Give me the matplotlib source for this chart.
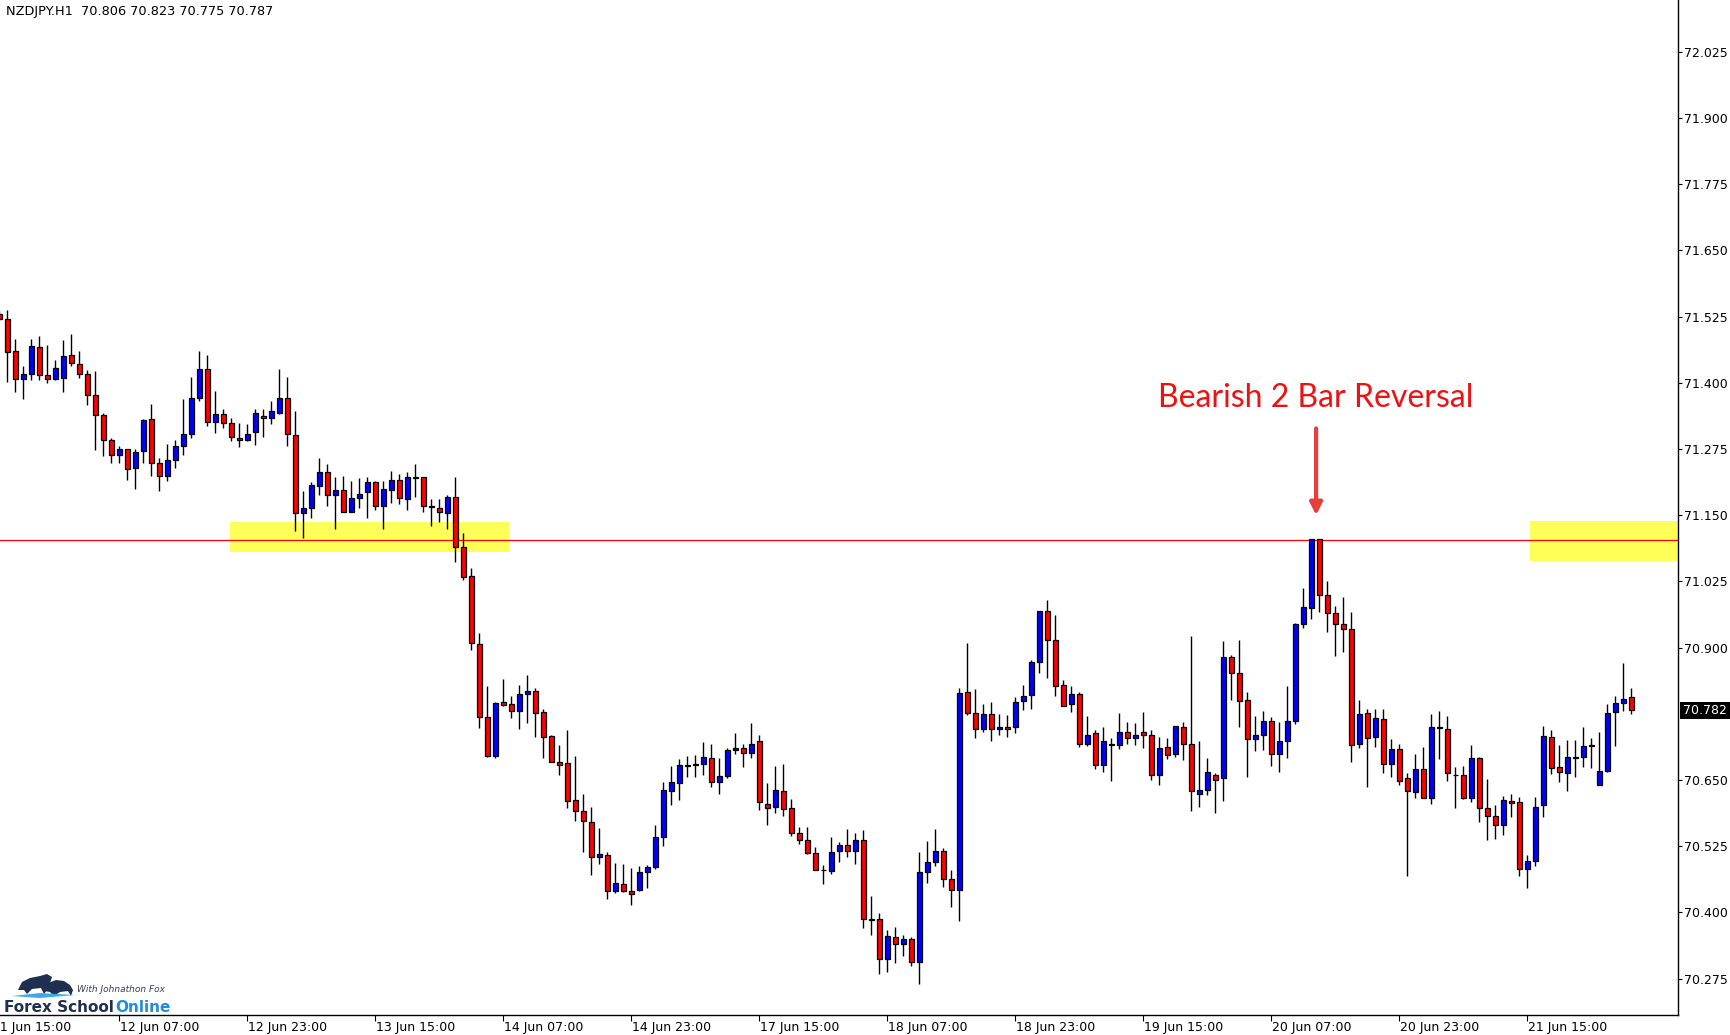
import matplotlib
matplotlib.use("Agg")
import matplotlib.pyplot as plt
import matplotlib.transforms as mtrans
from matplotlib.patches import Rectangle, Polygon
import numpy as np

# NZDJPY H1 candles, oldest first (bar 0 is only partly visible at the left edge)
opens = [
    71.530, 71.521, 71.461, 71.408, 71.416, 71.467, 71.414, 71.407, 71.410, 71.452,
    71.435, 71.416, 71.377, 71.339, 71.293, 71.263, 71.276, 71.239, 71.271, 71.331,
    71.248, 71.224, 71.254, 71.280, 71.303, 71.371, 71.426, 71.327, 71.341, 71.324,
    71.296, 71.292, 71.307, 71.337, 71.333, 71.344, 71.371, 71.301, 71.154, 71.163,
    71.205, 71.231, 71.188, 71.197, 71.156, 71.182, 71.193, 71.212, 71.167, 71.197,
    71.216, 71.180, 71.220, 71.223, 71.167, 71.163, 71.154, 71.184, 71.091, 71.035,
    70.906, 70.770, 70.696, 70.797, 70.793, 70.781, 70.812, 70.818, 70.778, 70.733,
    70.685, 70.682, 70.612, 70.591, 70.570, 70.504, 70.508, 70.441, 70.453, 70.440,
    70.442, 70.476, 70.485, 70.542, 70.629, 70.644, 70.677, 70.678, 70.680, 70.691,
    70.646, 70.657, 70.706, 70.710, 70.702, 70.723, 70.604, 70.599, 70.629, 70.597,
    70.550, 70.536, 70.512, 70.481, 70.478, 70.516, 70.527, 70.516, 70.536, 70.388,
    70.387, 70.312, 70.353, 70.340, 70.349, 70.306, 70.476, 70.495, 70.516, 70.463,
    70.442, 70.816, 70.776, 70.746, 70.774, 70.746, 70.750, 70.750, 70.799, 70.810,
    70.872, 70.969, 70.914, 70.829, 70.793, 70.812, 70.719, 70.738, 70.678, 70.717,
    70.717, 70.740, 70.729, 70.740, 70.736, 70.659, 70.712, 70.699, 70.751, 70.719,
    70.623, 70.632, 70.659, 70.653, 70.882, 70.852, 70.801, 70.727, 70.735, 70.761,
    70.700, 70.723, 70.761, 70.944, 70.974, 71.105, 70.999, 70.965, 70.944, 70.935,
    70.719, 70.776, 70.731, 70.765, 70.680, 70.708, 70.653, 70.627, 70.670, 70.617,
    70.751, 70.746, 70.660, 70.659, 70.617, 70.691, 70.597, 70.582, 70.565, 70.610,
    70.608, 70.482, 70.497, 70.602, 70.731, 70.674, 70.663, 70.692, 70.693, 70.714,
    70.640, 70.668, 70.778, 70.796, 70.806,
]
highs = [
    71.535, 71.538, 71.482, 71.432, 71.482, 71.489, 71.472, 71.444, 71.480, 71.492,
    71.460, 71.424, 71.422, 71.344, 71.295, 71.280, 71.276, 71.275, 71.331, 71.361,
    71.258, 71.284, 71.293, 71.369, 71.411, 71.461, 71.452, 71.385, 71.350, 71.333,
    71.324, 71.322, 71.350, 71.350, 71.365, 71.426, 71.411, 71.346, 71.196, 71.212,
    71.258, 71.246, 71.223, 71.225, 71.214, 71.220, 71.222, 71.214, 71.214, 71.234,
    71.227, 71.231, 71.246, 71.223, 71.180, 71.180, 71.189, 71.223, 71.116, 71.050,
    70.927, 70.828, 70.797, 70.841, 70.809, 70.830, 70.848, 70.823, 70.785, 70.736,
    70.716, 70.745, 70.696, 70.624, 70.599, 70.560, 70.514, 70.493, 70.492, 70.484,
    70.487, 70.489, 70.565, 70.646, 70.677, 70.690, 70.696, 70.697, 70.722, 70.718,
    70.691, 70.710, 70.739, 70.718, 70.758, 70.735, 70.644, 70.677, 70.680, 70.614,
    70.561, 70.561, 70.523, 70.490, 70.543, 70.533, 70.558, 70.550, 70.556, 70.431,
    70.399, 70.367, 70.373, 70.358, 70.354, 70.514, 70.535, 70.558, 70.521, 70.480,
    70.823, 70.909, 70.822, 70.794, 70.797, 70.775, 70.773, 70.807, 70.830, 70.876,
    70.969, 70.990, 70.962, 70.839, 70.828, 70.816, 70.771, 70.744, 70.750, 70.729,
    70.777, 70.759, 70.758, 70.779, 70.744, 70.731, 70.729, 70.753, 70.759, 70.922,
    70.724, 70.691, 70.663, 70.913, 70.886, 70.914, 70.816, 70.771, 70.780, 70.769,
    70.760, 70.828, 70.946, 71.013, 71.106, 71.106, 71.026, 70.979, 70.996, 70.967,
    70.801, 70.784, 70.784, 70.784, 70.728, 70.719, 70.663, 70.699, 70.712, 70.775,
    70.780, 70.771, 70.675, 70.677, 70.716, 70.694, 70.652, 70.602, 70.620, 70.624,
    70.618, 70.508, 70.618, 70.753, 70.745, 70.717, 70.726, 70.726, 70.750, 70.730,
    70.741, 70.794, 70.809, 70.871, 70.823,
]
lows = [
    71.518, 71.402, 71.382, 71.370, 71.405, 71.405, 71.400, 71.405, 71.382, 71.431,
    71.409, 71.359, 71.274, 71.261, 71.249, 71.249, 71.217, 71.200, 71.249, 71.224,
    71.195, 71.214, 71.240, 71.263, 71.295, 71.365, 71.319, 71.306, 71.314, 71.291,
    71.278, 71.290, 71.282, 71.298, 71.322, 71.342, 71.280, 71.121, 71.108, 71.145,
    71.189, 71.167, 71.125, 71.156, 71.156, 71.163, 71.144, 71.159, 71.125, 71.173,
    71.172, 71.159, 71.185, 71.157, 71.130, 71.138, 71.125, 71.062, 71.028, 70.896,
    70.749, 70.694, 70.692, 70.789, 70.767, 70.747, 70.758, 70.732, 70.692, 70.684,
    70.660, 70.598, 70.572, 70.515, 70.471, 70.492, 70.426, 70.437, 70.438, 70.415,
    70.440, 70.447, 70.483, 70.526, 70.602, 70.613, 70.656, 70.656, 70.660, 70.636,
    70.623, 70.653, 70.699, 70.675, 70.691, 70.594, 70.566, 70.587, 70.583, 70.545,
    70.530, 70.510, 70.481, 70.454, 70.473, 70.495, 70.504, 70.492, 70.370, 70.358,
    70.283, 70.288, 70.305, 70.317, 70.298, 70.264, 70.456, 70.487, 70.449, 70.411,
    70.383, 70.772, 70.730, 70.741, 70.724, 70.736, 70.732, 70.738, 70.783, 70.785,
    70.853, 70.843, 70.809, 70.789, 70.779, 70.713, 70.715, 70.670, 70.666, 70.649,
    70.709, 70.719, 70.717, 70.711, 70.651, 70.641, 70.690, 70.694, 70.687, 70.591,
    70.600, 70.621, 70.587, 70.611, 70.802, 70.751, 70.655, 70.704, 70.706, 70.677,
    70.666, 70.692, 70.756, 70.938, 70.955, 70.968, 70.930, 70.885, 70.892, 70.685,
    70.710, 70.636, 70.713, 70.664, 70.656, 70.641, 70.468, 70.617, 70.617, 70.604,
    70.690, 70.649, 70.598, 70.614, 70.609, 70.570, 70.536, 70.539, 70.547, 70.581,
    70.468, 70.447, 70.487, 70.581, 70.662, 70.647, 70.630, 70.656, 70.675, 70.673,
    70.640, 70.665, 70.715, 70.781, 70.775,
]
closes = [
    71.521, 71.459, 71.407, 71.416, 71.469, 71.414, 71.407, 71.429, 71.450, 71.437,
    71.416, 71.377, 71.339, 71.293, 71.263, 71.275, 71.237, 71.269, 71.329, 71.248,
    71.225, 71.254, 71.280, 71.303, 71.371, 71.426, 71.327, 71.341, 71.324, 71.297,
    71.293, 71.303, 71.343, 71.333, 71.346, 71.371, 71.303, 71.154, 71.163, 71.207,
    71.231, 71.188, 71.197, 71.156, 71.182, 71.191, 71.212, 71.167, 71.199, 71.216,
    71.182, 71.222, 71.223, 71.167, 71.166, 71.157, 71.184, 71.091, 71.033, 70.908,
    70.770, 70.696, 70.795, 70.792, 70.781, 70.812, 70.819, 70.776, 70.732, 70.684,
    70.679, 70.611, 70.591, 70.572, 70.504, 70.510, 70.440, 70.455, 70.440, 70.434,
    70.476, 70.485, 70.542, 70.631, 70.646, 70.678, 70.678, 70.680, 70.693, 70.646,
    70.657, 70.706, 70.710, 70.702, 70.719, 70.608, 70.597, 70.631, 70.595, 70.550,
    70.536, 70.512, 70.481, 70.480, 70.514, 70.527, 70.516, 70.536, 70.387, 70.386,
    70.312, 70.355, 70.340, 70.349, 70.306, 70.476, 70.495, 70.516, 70.463, 70.442,
    70.814, 70.776, 70.746, 70.774, 70.746, 70.750, 70.746, 70.797, 70.808, 70.872,
    70.969, 70.914, 70.827, 70.789, 70.812, 70.719, 70.736, 70.678, 70.723, 70.719,
    70.740, 70.729, 70.736, 70.736, 70.659, 70.710, 70.697, 70.753, 70.719, 70.629,
    70.631, 70.665, 70.651, 70.882, 70.852, 70.799, 70.727, 70.735, 70.761, 70.699,
    70.723, 70.761, 70.944, 70.976, 71.105, 70.999, 70.965, 70.944, 70.935, 70.717,
    70.774, 70.729, 70.767, 70.680, 70.708, 70.648, 70.629, 70.670, 70.617, 70.750,
    70.748, 70.663, 70.659, 70.617, 70.691, 70.597, 70.582, 70.565, 70.612, 70.606,
    70.483, 70.498, 70.600, 70.733, 70.672, 70.665, 70.693, 70.693, 70.714, 70.716,
    70.668, 70.776, 70.796, 70.803, 70.782,
]

# time axis: a label every 16 bars, first one sits one bar left of the window
date_labels = ["11 Jun 15:00", "12 Jun 07:00", "12 Jun 23:00", "13 Jun 15:00",
               "14 Jun 07:00", "14 Jun 23:00", "17 Jun 15:00", "18 Jun 07:00",
               "18 Jun 23:00", "19 Jun 15:00", "20 Jun 07:00", "20 Jun 23:00",
               "21 Jun 15:00"]
date_bars = list(range(-1, 192, 16))

price_ticks = [70.275, 70.400, 70.525, 70.650, 70.900, 71.025, 71.150,
               71.275, 71.400, 71.525, 71.650, 71.775, 71.900, 72.025]
header = "NZDJPY.H1  70.806 70.823 70.775 70.787"

resistance = 71.104
zone_left = (28.8, 63.7, 71.080, 71.138)      # bar from, bar to, price low, price high
zone_right = (191.3, 215.0, 71.063, 71.140)
note_text = "Bearish 2 Bar Reversal"
note_bar, note_price = 164.6, 71.372
arrow_from, arrow_to = 71.314, 71.150

W, H = 1730, 1035
fig = plt.figure(figsize=(W / 100, H / 100), dpi=100)
ax = fig.add_axes([0, 20 / H, 1678 / W, 1015 / H])

x = np.arange(len(opens))
o = np.array(opens)
c = np.array(closes)
colors = np.where(c >= o, "#0000FF", "#FF0000")

# zones and level first so candles sit on top
for x0, x1, y0, y1 in (zone_left, zone_right):
    ax.add_patch(Rectangle((x0, y0), x1 - x0, y1 - y0, facecolor="#FFFF57",
                           edgecolor="none", zorder=1))
ax.axhline(resistance, color="#FF0000", lw=0.9, zorder=2)

ax.vlines(x, lows, highs, color="black", lw=1.0, zorder=3)
ax.bar(x, c - o, bottom=o, width=0.62, color=colors, edgecolor="black",
       linewidth=0.9, zorder=4)

ax.set_xlim(1 - 7.3 / 8, 1 + (1678 - 7.3) / 8)
ax.set_ylim(72.025 - (1015 - 51.86) / 529.6, 72.025 + 51.86 / 529.6)

for side in ("left", "top"):
    ax.spines[side].set_visible(False)
for side in ("right", "bottom"):
    ax.spines[side].set_linewidth(1.0)
    ax.spines[side].set_color("black")

# price axis on the right
ax.yaxis.tick_right()
ax.set_yticks(price_ticks)
ax.set_yticklabels([f"{p:.3f}" for p in price_ticks])
ax.tick_params(axis="y", direction="out", length=3, width=0.8, pad=1.5,
               labelsize=9, colors="black")

# time axis ticks, labels drawn by hand so the clipped first one still shows
ax.set_xticks([b for b in date_bars if b >= 0])
ax.set_xticklabels([])
ax.tick_params(axis="x", direction="out", length=4, width=0.8)
tr = mtrans.blended_transform_factory(ax.transData, ax.transAxes)
for b, lab in zip(date_bars, date_labels):
    ax.text(b + 0.15, -13 / 1015, lab, transform=tr, ha="left", va="center",
            fontsize=9, clip_on=False)

ax.text(0.0035, 0.9955, header, transform=ax.transAxes, ha="left", va="top",
        fontsize=9.3, color="black")

# current price box
trp = mtrans.blended_transform_factory(fig.transFigure, ax.transData)
last = closes[-1]
box_h = 17 / 529.6
ax.add_patch(Rectangle((1680 / W, last - box_h / 2), 50 / W, box_h,
                       transform=trp, facecolor="black", edgecolor="none",
                       clip_on=False, zorder=6))
ax.text(1705 / W, last, f"{last:.3f}", transform=trp, ha="center", va="center",
        color="white", fontsize=9, zorder=7, clip_on=False)

# annotation
ax.text(note_bar, note_price, note_text, ha="center", va="center",
        color="#EE1111", fontsize=23, family="Lato", zorder=6)
ax.annotate("", xy=(note_bar, arrow_to), xytext=(note_bar, arrow_from),
            arrowprops=dict(arrowstyle="-|>", color="#E5403C", lw=3,
                            mutation_scale=18, shrinkA=0, shrinkB=0), zorder=6)

# logo bottom-left: rough bull/bear silhouettes, swoosh, text
def px(pts):
    return [(a / W, 1 - b / H) for a, b in pts]

bull = [(18, 990), (22, 982), (30, 978), (40, 976), (47, 974), (52, 977),
        (50, 983), (47, 990), (44, 994), (41, 988), (32, 989), (27, 994),
        (24, 990)]
bear = [(44, 991), (48, 983), (56, 980), (64, 981), (70, 985), (73, 990),
        (71, 996), (68, 991), (60, 992), (54, 996), (50, 992)]
for shape in (bull, bear):
    fig.patches.append(Polygon(px(shape), closed=True, transform=fig.transFigure,
                               facecolor="#1F2F4F", edgecolor="none"))
fig.patches.append(Polygon(px([(12, 996), (40, 993), (75, 995), (40, 998)]),
                           closed=True, transform=fig.transFigure,
                           facecolor="#3FA9E8", edgecolor="none"))

t1 = fig.text(4 / W, 1 - 1007 / H, "Forex School", ha="left", va="center",
              fontsize=11, fontweight="bold", color="#1F2F4F")
fig.canvas.draw()
bb = t1.get_window_extent()
fig.text(bb.x1 / W + 1 / W, 1 - 1007 / H, "Online", ha="left", va="center",
         fontsize=11, fontweight="bold", color="#1E8FD5")
fig.text(77 / W, 1 - 990 / H, "With Johnathon Fox", ha="left", va="center",
         fontsize=6.5, style="italic", color="#3A3A5A")

fig.savefig("out.png", dpi=100, facecolor="white")
